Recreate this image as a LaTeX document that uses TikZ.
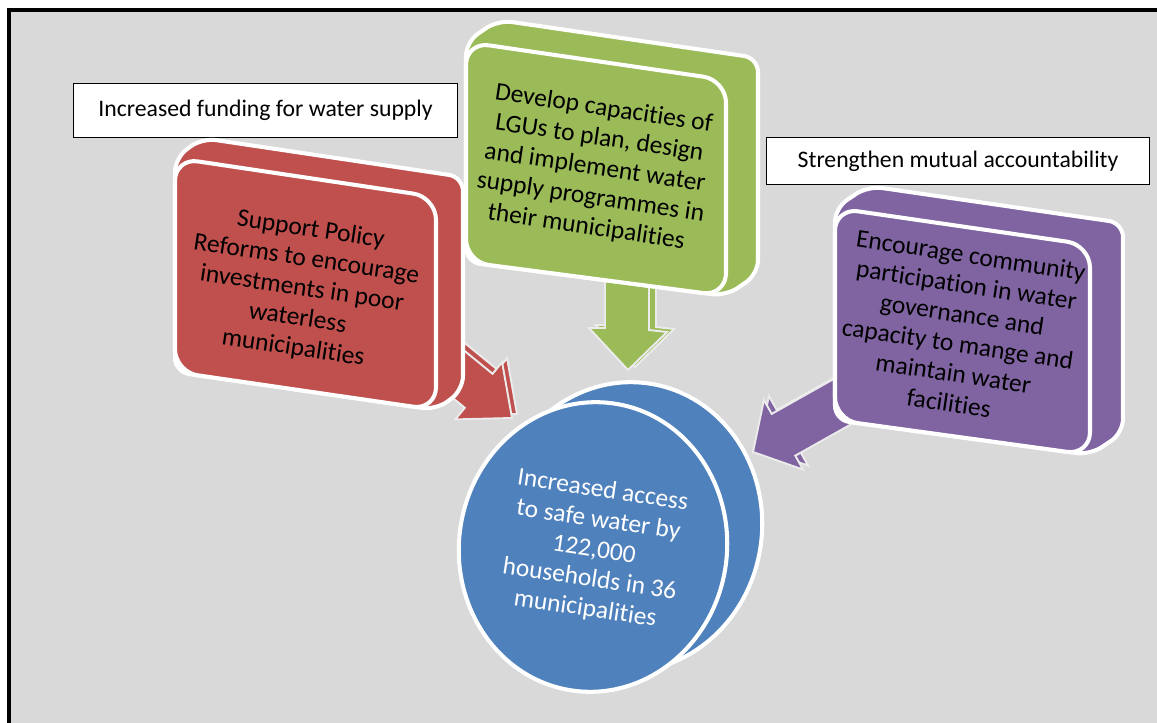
\documentclass[tikz,border=0pt]{standalone}
\usepackage{fontspec}
\setmainfont{Carlito}[Ligatures=NoCommon]
\usetikzlibrary{calc}

\definecolor{bggray}{HTML}{D9D9D9}
\definecolor{boxred}{HTML}{C0504D}
\definecolor{boxgreen}{HTML}{9BBB59}
\definecolor{boxpurple}{HTML}{8064A2}
\definecolor{boxblue}{HTML}{4F81BD}

\begin{document}
\begin{tikzpicture}[x=0.02cm,y=-0.02cm,
  face/.style={draw=white,line width=2.3pt,rounded corners=13pt},
  hull/.style={draw=white,line width=2.3pt,rounded corners=8pt},
  rim/.style={draw=white!92!black,line width=1.1pt},
  boxtext/.style={align=center,font=\fontsize{14.5}{17}\selectfont,rotate=-8.5},
  labelbox/.style={draw=black,fill=white,line width=0.7pt,anchor=north west,
    minimum width=7.68cm,minimum height=1.08cm,font=\fontsize{13.5}{16}\selectfont}]

\useasboundingbox (0,0) rectangle (1157,723);
% Grey panel with the heavy frame on the left and on top
\fill[bggray] (9,10) rectangle (1157,723);
\fill[black] (7,8) rectangle (11,723);
\fill[black] (7,8) rectangle (1157,12);

% Plain labels
\node[labelbox] (funding) at (73,83) {Increased funding for water supply};
\node[labelbox,minimum width=7.66cm,minimum height=0.94cm] (account) at (766,137) {Strengthen mutual accountability};

% The goal disc: back face first, then the front face
\coordinate (cf) at (593,547);
\coordinate (cb) at ($(cf)+(35,-20)$);
\filldraw[boxblue,draw=white,line width=2.3pt,rotate around={-8:(cb)}] (cb) ellipse [x radius=134,y radius=145];
\filldraw[boxblue,draw=white,line width=2.3pt,rotate around={-8:(cf)}] (cf) ellipse [x radius=134,y radius=145];
\node[boxtext,text=white] (goal) at (594,550) {Increased access\\to safe water by\\122,000\\households in 36\\municipalities};

% Block arrows, each with a shifted copy behind it for depth
\begin{scope}[shift={(5,-4)}]
\draw[rim,fill=boxred] (430.7,323.2) -- (492.6,373.8) -- (502.1,362.2) -- (512,418) -- (455.3,419.4) -- (464.8,407.8) -- (402.9,357.2) -- cycle;
\end{scope}
\draw[rim,fill=boxred] (430.7,323.2) -- (492.6,373.8) -- (502.1,362.2) -- (512,418) -- (455.3,419.4) -- (464.8,407.8) -- (402.9,357.2) -- cycle;

\begin{scope}[shift={(7,-3)}]
\draw[rim,fill=boxgreen] (605,265) -- (649,265) -- (649,330) -- (667,332) -- (628,370) -- (589,328) -- (605,328) -- cycle;
\end{scope}
\draw[rim,fill=boxgreen] (605,265) -- (649,265) -- (649,330) -- (667,332) -- (628,370) -- (589,328) -- (605,328) -- cycle;

\begin{scope}[shift={(5,-4)}]
\draw[rim,fill=boxpurple] (858.7,364.9) -- (771.7,413.9) -- (763.9,400) -- (753,452) -- (803.1,469.6) -- (795.3,455.7) -- (882.3,406.7) -- cycle;
\end{scope}
\draw[rim,fill=boxpurple] (858.7,364.9) -- (771.7,413.9) -- (763.9,400) -- (753,452) -- (803.1,469.6) -- (795.3,455.7) -- (882.3,406.7) -- cycle;

% Red box
\coordinate (r1) at (175,158);
\coordinate (r2) at (436,197);
\coordinate (r3) at (436,410);
\coordinate (r4) at (175,372);
\coordinate (rd) at (27,-20);
\draw[hull,fill=boxred] ($(r1)!.5!(r4)$) -- (r1) -- ($(r1)+(rd)$) -- ($(r2)+(rd)$) -- ($(r3)+(rd)$) -- (r3) -- (r4) -- cycle;
\draw[face,fill=boxred] ($(r1)!.5!(r4)$) -- (r1) -- (r2) -- (r3) -- (r4) -- cycle;
\node[boxtext] (policy) at (302,289) {Support Policy\\Reforms to encourage\\investments in poor\\waterless\\municipalities};

% Green box
\coordinate (g1) at (466,42);
\coordinate (g2) at (726,80);
\coordinate (g3) at (726,296);
\coordinate (g4) at (466,262);
\coordinate (gd) at (32,-22);
\draw[hull,fill=boxgreen] ($(g1)!.5!(g4)$) -- (g1) -- ($(g1)+(gd)$) -- ($(g2)+(gd)$) -- ($(g3)+(gd)$) -- (g3) -- (g4) -- cycle;
\draw[face,fill=boxgreen] ($(g1)!.5!(g4)$) -- (g1) -- (g2) -- (g3) -- (g4) -- cycle;
\node[boxtext] (lgu) at (595,168) {Develop capacities of\\LGUs to plan, design\\and implement water\\supply programmes in\\their municipalities};

% Purple box
\coordinate (p1) at (835,208);
\coordinate (p2) at (1090,245);
\coordinate (p3) at (1090,455);
\coordinate (p4) at (835,420);
\coordinate (pd) at (33,-22);
\draw[hull,fill=boxpurple] ($(p1)!.5!(p4)$) -- (p1) -- ($(p1)+(pd)$) -- ($(p2)+(pd)$) -- ($(p3)+(pd)$) -- (p3) -- (p4) -- cycle;
\draw[face,fill=boxpurple] ($(p1)!.5!(p4)$) -- (p1) -- (p2) -- (p3) -- (p4) -- cycle;
\node[boxtext] (community) at (960,329) {Encourage community\\participation in water\\governance and\\capacity to mange and\\maintain water\\facilities};
\end{tikzpicture}
\end{document}
